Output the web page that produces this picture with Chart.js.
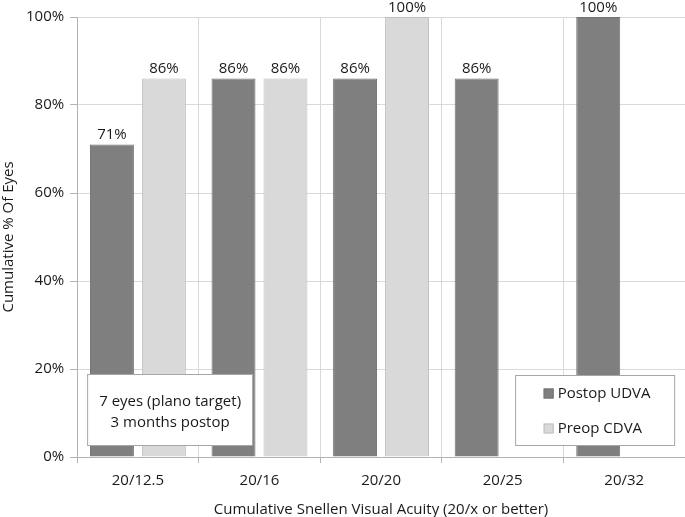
<!DOCTYPE html>
<html>
<head>
<meta charset="utf-8">
<script src="https://cdn.jsdelivr.net/npm/chart.js@4"></script>
<style>
  body { margin: 0; background: #fff; }
  #wrap { width: 685px; height: 517px; }
</style>
</head>
<body>
<div id="wrap"><canvas id="myChart"></canvas></div>
<script>
var categories = ["20/12.5", "20/16", "20/20", "20/25", "20/32"];
var postopUDVA = [71, 86, 86, 86, 100];
var preopCDVA = [86, 86, 100, null, null];
var yTicks = [0, 20, 40, 60, 80, 100];
var noteLines = ["7 eyes (plano target)", "3 months postop"];

var FONT = "'Open Sans', sans-serif";

// labels above each bar
var barLabels = {
  id: 'barLabels',
  afterDatasetsDraw: function (chart) {
    var ctx = chart.ctx;
    ctx.save();
    ctx.font = "15px " + FONT;
    ctx.fillStyle = "#1a1a1a";
    ctx.textAlign = "center";
    ctx.textBaseline = "bottom";
    chart.data.datasets.forEach(function (ds, i) {
      chart.getDatasetMeta(i).data.forEach(function (bar, j) {
        if (ds.data[j] == null) return;
        ctx.fillText(ds.data[j] + "%", bar.x, bar.y - 2);
      });
    });
    ctx.restore();
  }
};

// note box and legend box inside the plot
var boxes = {
  id: 'boxes',
  afterDraw: function (chart) {
    var ctx = chart.ctx;
    var a = chart.chartArea;
    ctx.save();
    ctx.lineWidth = 1;
    ctx.strokeStyle = "#a6a6a6";
    ctx.fillStyle = "#fff";

    // note
    var nx = a.left + 10.5, ny = a.bottom - 82.5, nw = 165, nh = 71;
    ctx.fillRect(nx, ny, nw, nh);
    ctx.strokeRect(nx, ny, nw, nh);
    ctx.fillStyle = "#1a1a1a";
    ctx.font = "15px " + FONT;
    ctx.textAlign = "center";
    ctx.textBaseline = "middle";
    ctx.fillText(noteLines[0], nx + nw / 2, ny + 27);
    ctx.fillText(noteLines[1], nx + nw / 2, ny + 48);

    // legend
    var lx = a.left + 438.5, ly = a.bottom - 81.5, lw = 159, lh = 70;
    ctx.fillStyle = "#fff";
    ctx.fillRect(lx, ly, lw, lh);
    ctx.strokeRect(lx, ly, lw, lh);
    ctx.textAlign = "left";
    chart.data.datasets.forEach(function (ds, i) {
      var cy = ly + 18 + i * 35;
      ctx.fillStyle = ds.backgroundColor;
      ctx.fillRect(lx + 28, cy - 5, 10, 10);
      ctx.strokeStyle = ds.borderColor;
      ctx.strokeRect(lx + 28.5, cy - 4.5, 9, 9);
      ctx.fillStyle = "#1a1a1a";
      ctx.fillText(ds.label, lx + 42, cy);
    });
    ctx.restore();
  }
};

var config = {
  type: 'bar',
  data: {
    labels: categories,
    datasets: [{
      label: "Postop UDVA",
      data: postopUDVA,
      backgroundColor: "#7f7f7f",
      borderColor: "#727272",
      borderWidth: 1,
      categoryPercentage: 0.855,
      barPercentage: 0.846
    }, {
      label: "Preop CDVA",
      data: preopCDVA,
      backgroundColor: "#d9d9d9",
      borderColor: "#bfbfbf",
      borderWidth: 1,
      categoryPercentage: 0.855,
      barPercentage: 0.846
    }]
  },
  options: {
    responsive: true,
    maintainAspectRatio: false,
    animation: false,
    layout: { padding: { top: 17, right: 0, left: 0, bottom: -2 } },
    plugins: {
      legend: { display: false },
      tooltip: { enabled: false }
    },
    scales: {
      x: {
        grid: { color: "#d9d9d9", tickLength: 6, tickColor: "#b3b3b3", offset: true },
        border: { color: "#b3b3b3" },
        ticks: { color: "#1a1a1a", font: { family: FONT, size: 15 }, padding: 9 },
        title: {
          display: true,
          text: "Cumulative Snellen Visual Acuity (20/x or better)",
          color: "#1a1a1a",
          font: { family: FONT, size: 15 },
          padding: { top: 2, bottom: 0 }
        }
      },
      y: {
        min: 0,
        max: 100,
        afterBuildTicks: function (scale) {
          scale.ticks = yTicks.map(function (v) { return { value: v }; });
        },
        grid: { color: "#d9d9d9", tickLength: 7, tickColor: "#b3b3b3" },
        border: { color: "#b3b3b3" },
        ticks: {
          color: "#1a1a1a",
          font: { family: FONT, size: 15 },
          padding: 6,
          callback: function (v) { return v + "%"; }
        },
        title: {
          display: true,
          text: "Cumulative % Of Eyes",
          color: "#1a1a1a",
          font: { family: FONT, size: 15 },
          padding: { top: 0, bottom: 2 }
        }
      }
    }
  },
  plugins: [barLabels, boxes]
};

var myChart = new Chart(document.getElementById("myChart").getContext("2d"), config);
</script>
</body>
</html>
